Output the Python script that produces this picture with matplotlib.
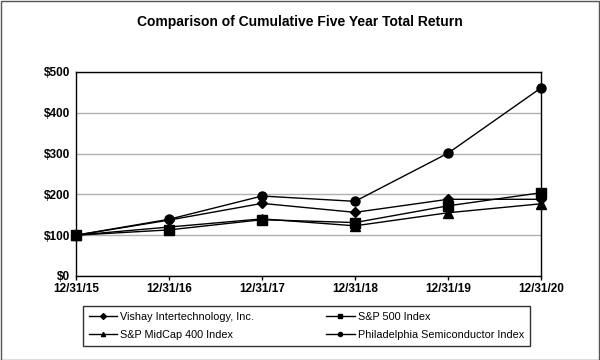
import matplotlib
matplotlib.use("Agg")
import matplotlib.pyplot as plt
from matplotlib.patches import Rectangle

plt.rcParams['font.family'] = ['Liberation Sans', 'DejaVu Sans']

years = ["12/31/15", "12/31/16", "12/31/17", "12/31/18", "12/31/19", "12/31/20"]
vishay = [100, 137, 178, 156, 188, 188]
sp500 = [100, 113, 138, 131, 172, 204]
midcap = [100, 120, 140, 123, 155, 177]
sox = [100, 139, 196, 183, 301, 461]
yticks = [0, 100, 200, 300, 400, 500]
ytick_labels = ["$0", "$100", "$200", "$300", "$400", "$500"]

fig = plt.figure(figsize=(6, 3.6), dpi=100)
fig.patches.append(Rectangle((0.001, 0.001), 0.997, 0.996, transform=fig.transFigure,
                             fill=False, edgecolor='#555555', linewidth=1))
ax = fig.add_axes([76/600, 1-276/360, (541-76)/600, (276-72)/360])
x = list(range(len(years)))
series = [
    (vishay, 'D', 5, "Vishay Intertechnology, Inc."),
    (sp500, 's', 6.5, "S&P 500 Index"),
    (midcap, '^', 6.5, "S&P MidCap 400 Index"),
    (sox, 'o', 6.5, "Philadelphia Semiconductor Index"),
]
for vals, m, ms, lab in series:
    ax.plot(x, vals, color='black', linewidth=1, marker=m, markersize=ms,
            clip_on=False, zorder=3, label=lab)

ax.set_xlim(0, 5)
ax.set_ylim(0, 500)
ax.set_yticks(yticks)
ax.set_yticklabels(ytick_labels)
ax.set_xticks(x)
ax.set_xticklabels(years)
ax.grid(axis='y', color='#b0b0b0', linewidth=1)
ax.set_axisbelow(True)
for s in ax.spines.values():
    s.set_linewidth(1)
ax.tick_params(axis='y', length=0, labelsize=8.5, pad=4)
ax.tick_params(axis='x', direction='out', length=3, width=1, labelsize=8.5, pad=2)
for lbl in ax.get_xticklabels() + ax.get_yticklabels():
    lbl.set_fontweight('bold')

fig.text(0.5, 1-22/360, "Comparison of Cumulative Five Year Total Return",
         ha='center', va='center', fontsize=10, fontweight='bold')

leg_handles = []
for vals, m, ms, lab in series:
    h, = ax.plot([], [], color='black', linewidth=1, marker=m, markersize=3, label=lab)
    leg_handles.append(h)
leg = fig.legend(handles=[leg_handles[0], leg_handles[2], leg_handles[1], leg_handles[3]],
                 labels=[series[0][3], series[2][3], series[1][3], series[3][3]],
                 ncol=2, loc='upper left',
                 bbox_to_anchor=(83/600, 1-350/360, 447/600, 44/360), mode='expand',
                 fontsize=7.8, frameon=True, fancybox=False, edgecolor='black',
                 handlelength=2.6, handletextpad=0.3,
                 borderpad=0.55, labelspacing=0.75, borderaxespad=0)
leg.get_frame().set_linewidth(1)

fig.savefig("out.png", dpi=100)
